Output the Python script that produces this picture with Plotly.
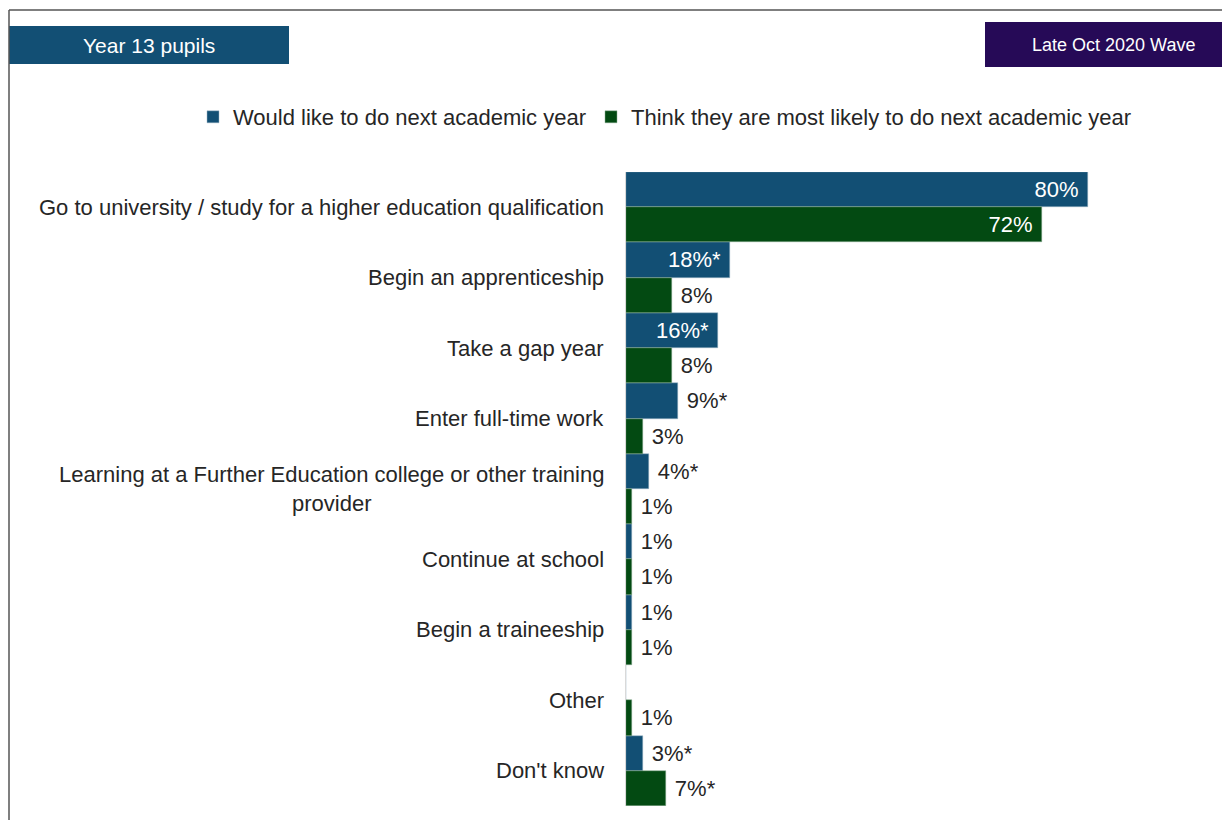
import plotly.graph_objects as go

categories = [
    "Go to university / study for a higher education qualification",
    "Begin an apprenticeship",
    "Take a gap year",
    "Enter full-time work",
    "Learning at a Further Education college or other training<br>provider",
    "Continue at school",
    "Begin a traineeship",
    "Other",
    "Don't know",
]
would_like = [80, 18, 16, 9, 4, 1, 1, 0, 3]
would_like_labels = ["80%", "18%*", "16%*", "9%*", "4%*", "1%", "1%", "", "3%*"]
most_likely = [72, 8, 8, 3, 1, 1, 1, 1, 7]
most_likely_labels = ["72%", "8%", "8%", "3%", "1%", "1%", "1%", "1%", "7%*"]
series_names = ["Would like to do next academic year",
                "Think they are most likely to do next academic year"]

BLUE = "#124F74"
GREEN = "#034A12"
PURPLE = "#260A57"
TXT = "#262626"
FONT = "Liberation Sans, Arial, sans-serif"

# page is offset by the 8px body margin, so work in page pixels minus OFF
OFF = 8
W, H = 1230, 820
L, R, T, B = 626 - OFF, 34, 172 - OFF, 22
PW, PH = W - L - R, H - T - B


def px(x):
    return (x - OFF - L) / PW


def py(y):
    return (H - B - (y - OFF)) / PH


def positions(vals):
    return ["inside" if v >= 15 else "outside" for v in vals]


fig = go.Figure()
fig.add_trace(go.Bar(
    y=categories, x=would_like, orientation="h", name=series_names[0],
    marker=dict(color=BLUE, line=dict(color="#9fb6c6", width=0.5)),
    text=would_like_labels, textposition=positions(would_like),
    texttemplate="\u00a0%{text}\u00a0",
    insidetextanchor="end", cliponaxis=False,
    insidetextfont=dict(color="white", size=22, family=FONT),
    outsidetextfont=dict(color=TXT, size=22, family=FONT),
))
fig.add_trace(go.Bar(
    y=categories, x=most_likely, orientation="h", name=series_names[1],
    marker=dict(color=GREEN, line=dict(color="#8fb096", width=0.5)),
    text=most_likely_labels, textposition=positions(most_likely),
    texttemplate="\u00a0%{text}\u00a0",
    insidetextanchor="end", cliponaxis=False,
    insidetextfont=dict(color="white", size=22, family=FONT),
    outsidetextfont=dict(color=TXT, size=22, family=FONT),
))

# category labels as annotations so that wrapped lines are centred
annotations = []
for c in categories:
    annotations.append(dict(
        x=0, xref="paper", y=c, yref="y", xanchor="right", yanchor="middle",
        xshift=-20, text=c, showarrow=False, align="center",
        font=dict(size=22, color=TXT, family=FONT),
    ))

annotations.append(dict(
    x=px(149), y=py(46), xref="paper", yref="paper", text="Year 13 pupils",
    xanchor="center", yanchor="middle", showarrow=False,
    font=dict(size=21, color="white", family=FONT),
))
annotations.append(dict(
    x=px(1113), y=py(45), xref="paper", yref="paper", text="Late Oct 2020 Wave",
    xanchor="center", yanchor="middle", showarrow=False,
    font=dict(size=18, color="white", family=FONT),
))

shapes = [
    dict(type="rect", xref="paper", yref="paper", x0=px(9), x1=px(289),
         y0=py(64), y1=py(26), fillcolor=BLUE, line=dict(width=0), layer="below"),
    dict(type="rect", xref="paper", yref="paper", x0=px(985), x1=px(1240),
         y0=py(67), y1=py(22), fillcolor=PURPLE, line=dict(width=0), layer="below"),
    dict(type="line", xref="paper", yref="paper", x0=px(9), x1=px(1240),
         y0=py(10), y1=py(10), line=dict(color="#555555", width=1.5)),
    dict(type="line", xref="paper", yref="paper", x0=px(9), x1=px(9),
         y0=py(10), y1=py(830), line=dict(color="#555555", width=1.5)),
]

fig.update_layout(
    width=W, height=H,
    margin=dict(l=L, r=R, t=T, b=B),
    paper_bgcolor="white", plot_bgcolor="white",
    barmode="group", bargap=0.0, bargroupgap=0.0,
    font=dict(family=FONT, size=22, color=TXT),
    showlegend=True,
    legend=dict(orientation="h", x=px(193), y=py(117),
                xanchor="left", yanchor="middle",
                font=dict(size=22, color=TXT, family=FONT),
                itemwidth=30, bgcolor="rgba(0,0,0,0)"),
    xaxis=dict(range=[0, 100], visible=False, fixedrange=True),
    yaxis=dict(autorange="reversed", showticklabels=False, showgrid=False,
               showline=True, linecolor="#d9d9d9", linewidth=1, ticks="",
               zeroline=False),
    annotations=annotations,
    shapes=shapes,
)

fig.write_html("out.html")
